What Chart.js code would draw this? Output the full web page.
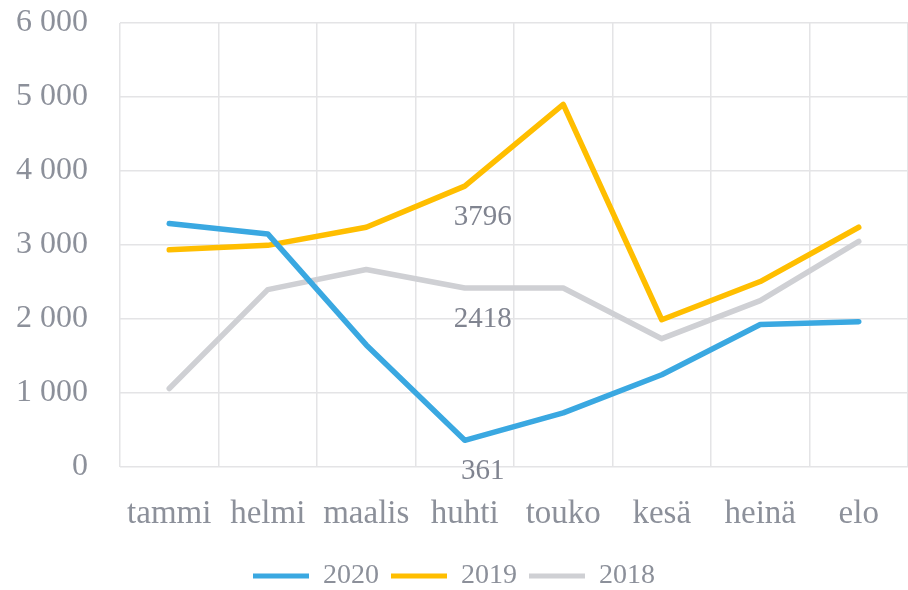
<!DOCTYPE html>
<html>
<head>
<meta charset="utf-8">
<script src="https://cdn.jsdelivr.net/npm/chart.js@4"></script>
<style>
  html, body { margin: 0; padding: 0; background: #fff; }
  #wrap { width: 908px; height: 590px; }
</style>
</head>
<body>
<div id="wrap"><canvas id="kuukausiChart"></canvas></div>
<script>
// months (Finnish short names)
const months = ['tammi', 'helmi', 'maalis', 'huhti', 'touko', 'kesä', 'heinä', 'elo'];

// series values
const values2020 = [3291, 3150, 1650, 361, 731, 1246, 1925, 1964];
const values2019 = [2935, 2995, 3240, 3796, 4900, 1990, 2506, 3240];
const values2018 = [1060, 2397, 2668, 2418, 2418, 1734, 2248, 3050];

// which point of each series carries a value label
const labelIndex = 3;

// y axis ticks
const yTicks = [0, 1000, 2000, 3000, 4000, 5000, 6000];

const fontFamily = "'Liberation Serif', serif";
const textColor = '#8c909a';

// draws the few value labels under the huhti points
const valueLabels = {
  id: 'valueLabels',
  afterDatasetsDraw(chart) {
    const ctx = chart.ctx;
    ctx.save();
    ctx.font = '29px ' + fontFamily;
    ctx.fillStyle = '#808490';
    ctx.textAlign = 'center';
    ctx.textBaseline = 'middle';
    chart.data.datasets.forEach((ds, i) => {
      const pt = chart.getDatasetMeta(i).data[labelIndex];
      ctx.fillText(String(ds.data[labelIndex]), pt.x + 18, pt.y + 31);
    });
    ctx.restore();
  }
};

function makeSet(label, data, color) {
  return {
    label: label,
    data: data,
    borderColor: color,
    backgroundColor: color,
    borderWidth: 5.5,
    borderCapStyle: 'round',
    borderJoinStyle: 'round',
    pointRadius: 0,
    tension: 0,
    fill: false
  };
}

new Chart(document.getElementById('kuukausiChart'), {
  type: 'line',
  data: {
    labels: months,
    datasets: [
      makeSet('2020', values2020, '#3aa8e1'),
      makeSet('2019', values2019, '#ffbe00'),
      makeSet('2018', values2018, '#cfd0d4')
    ]
  },
  options: {
    responsive: true,
    maintainAspectRatio: false,
    animation: false,
    layout: { padding: { top: 0, right: 0, bottom: -10, left: 0 } },
    plugins: {
      tooltip: { enabled: false },
      legend: {
        position: 'bottom',
        labels: {
          font: { family: fontFamily, size: 28 },
          color: textColor,
          boxWidth: 56,
          boxHeight: 5,
          padding: 12,
          generateLabels(chart) {
            return chart.data.datasets.map((ds, i) => ({
              text: ds.label,
              fillStyle: ds.borderColor,
              strokeStyle: ds.borderColor,
              lineWidth: 0,
              fontColor: textColor,
              datasetIndex: i
            }));
          }
        }
      }
    },
    scales: {
      x: {
        offset: true,
        afterFit(scale) { scale.height = 83; },
        grid: { offset: true, color: '#e4e4e6', lineWidth: 1.5, drawTicks: false },
        border: { display: false },
        ticks: {
          font: { family: fontFamily, size: 33 },
          color: textColor,
          padding: 28,
          maxRotation: 0,
          autoSkip: false
        }
      },
      y: {
        min: 0,
        max: 6000,
        afterFit(scale) { scale.width = 120; scale.paddingTop = 23; scale.paddingBottom = 20; },
        afterBuildTicks(scale) { scale.ticks = yTicks.map(v => ({ value: v })); },
        grid: { color: '#e4e4e6', lineWidth: 1.5, drawTicks: false },
        border: { display: false },
        ticks: {
          font: { family: fontFamily, size: 32 },
          color: textColor,
          padding: 32,
          callback: v => String(v).replace(/\B(?=(\d{3})+(?!\d))/g, ' ')
        }
      }
    }
  },
  plugins: [valueLabels]
});
</script>
</body>
</html>
